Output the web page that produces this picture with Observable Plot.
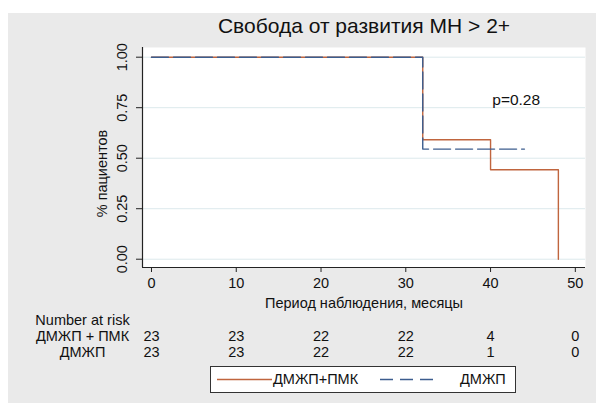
<!DOCTYPE html>
<html>
<head>
<meta charset="utf-8">
<script src="https://cdn.jsdelivr.net/npm/d3@7"></script>
<script src="https://cdn.jsdelivr.net/npm/@observablehq/plot@0.6"></script>
<style>
  html, body { margin: 0; padding: 0; background: #fff; }
  #wrap { position: relative; width: 596px; height: 408px; overflow: hidden; font-family: "Liberation Sans", Arial, sans-serif; }
  #bg { position: absolute; left: 8px; top: 13px; width: 588px; height: 390px; background: #eaeaea; }
  #chart { position: absolute; left: 0; top: 0; }
  #legend { position: absolute; left: 210px; top: 366px; width: 306px; height: 27px; box-sizing: border-box;
            border: 1px solid #333; background: #fff; font-size: 14.5px; color: #111; }
  #legend .item { position: absolute; top: 0; height: 25px; line-height: 25px; white-space: nowrap; }
  #legend svg { position: absolute; top: 0; }
</style>
</head>
<body>
<div id="wrap">
  <div id="bg"></div>
  <div id="chart"></div>
  <div id="legend"></div>
</div>
<script>
// ---- data ----
const title = "Свобода от развития МН > 2+";
const yLabel = "% пациентов";
const xLabel = "Период наблюдения, месяцы";
const pText = "p=0.28";
const groupNames = ["ДМЖП+ПМК", "ДМЖП"];
const riskLabels = ["ДМЖП + ПМК", "ДМЖП"];
const riskTitle = "Number at risk";

const xTicks = [0, 10, 20, 30, 40, 50];
const yTicks = [0, 0.25, 0.5, 0.75, 1];

// survival steps, ДМЖП+ПМК
const timeA = [0, 32, 40, 48];
const survA = [1, 0.591, 0.443, 0];
// survival steps, ДМЖП
const timeB = [0, 32, 44];
const survB = [1, 0.545, 0.545];

// number at risk at xTicks
const riskA = [23, 23, 22, 22, 4, 0];
const riskB = [23, 23, 22, 22, 1, 0];

// p-value annotation position (data coords)
const pPos = {t: 40.2, s: 0.79};

const colorA = "#c0653e";
const colorB = "#3c5d8e";

const xDomain = [-1.06, 51.2];
const yDomain = [-0.041, 1.048];

// ---- build ----
const curveA = timeA.map((t, i) => ({t, s: survA[i]}));
const curveB = timeB.map((t, i) => ({t, s: survB[i]}));
const rowsA = xTicks.map((t, i) => ({t, n: riskA[i]}));
const rowsB = xTicks.map((t, i) => ({t, n: riskB[i]}));

const font = "Liberation Sans, Arial, sans-serif";
const ink = "#111";
const fs = 14.5;

const chart = Plot.plot({
  width: 596,
  height: 408,
  marginLeft: 142,
  marginRight: 11,
  marginTop: 47,
  marginBottom: 141,
  style: {fontFamily: font, background: "transparent", color: ink, overflow: "visible"},
  x: {domain: xDomain},
  y: {domain: yDomain},
  marks: [
    Plot.frame({fill: "white", stroke: null}),
    Plot.gridY(yTicks, {stroke: "#dce9ec", strokeOpacity: 1, strokeWidth: 1}),
    Plot.line(curveA, {x: "t", y: "s", curve: "step-after", stroke: colorA, strokeWidth: 1.4}),
    Plot.line(curveB, {x: "t", y: "s", curve: "step-after", stroke: colorB, strokeWidth: 1.4, strokeDasharray: "17,5"}),
    Plot.ruleX([xDomain[0]], {stroke: "#222", strokeWidth: 1.2}),
    Plot.ruleY([yDomain[0]], {stroke: "#222", strokeWidth: 1.2}),
    Plot.axisX({ticks: xTicks, tickSize: 5, tickPadding: 5, tickFormat: d => String(d), fontSize: fs, label: null, stroke: "#222"}),
    Plot.axisY({ticks: yTicks, tickSize: 6, tickFormat: () => "", label: null, stroke: "#222"}),
    Plot.text(yTicks, {x: xDomain[0], y: d => d, text: d => d.toFixed(2), rotate: -90, dx: -20, fontSize: fs, fill: ink, textAnchor: "middle", lineAnchor: "middle"}),
    Plot.text([yLabel], {frameAnchor: "left", dx: -40, dy: 16, rotate: -90, fontSize: fs, fill: ink, textAnchor: "middle", lineAnchor: "middle"}),
    Plot.text([xLabel], {frameAnchor: "bottom", dy: 36, fontSize: fs, fill: ink, textAnchor: "middle", lineAnchor: "middle"}),
    Plot.text([title], {frameAnchor: "top", dy: -21, fontSize: 21, fill: ink, textAnchor: "middle", lineAnchor: "middle"}),
    Plot.text([pPos], {x: "t", y: "s", text: () => pText, textAnchor: "start", fontSize: 15.5, fill: ink, lineAnchor: "middle"}),
    Plot.text([riskTitle], {frameAnchor: "bottom-left", dx: -60, dy: 53, fontSize: fs, fill: ink, textAnchor: "middle", lineAnchor: "middle"}),
    Plot.text([riskLabels[0]], {frameAnchor: "bottom-left", dx: -60, dy: 69, fontSize: fs, fill: ink, textAnchor: "middle", lineAnchor: "middle"}),
    Plot.text([riskLabels[1]], {frameAnchor: "bottom-left", dx: -60, dy: 85, fontSize: fs, fill: ink, textAnchor: "middle", lineAnchor: "middle"}),
    Plot.text(rowsA, {x: "t", frameAnchor: "bottom", text: "n", dy: 69, fontSize: fs, fill: ink, textAnchor: "middle", lineAnchor: "middle"}),
    Plot.text(rowsB, {x: "t", frameAnchor: "bottom", text: "n", dy: 85, fontSize: fs, fill: ink, textAnchor: "middle", lineAnchor: "middle"})
  ]
});
document.getElementById("chart").appendChild(chart);

// ---- legend ----
const legend = document.getElementById("legend");
function swatch(left, width, color, dash) {
  const ns = "http://www.w3.org/2000/svg";
  const s = document.createElementNS(ns, "svg");
  s.setAttribute("width", width); s.setAttribute("height", 25);
  s.style.left = left + "px";
  const l = document.createElementNS(ns, "line");
  l.setAttribute("x1", 0); l.setAttribute("x2", width);
  l.setAttribute("y1", 12.5); l.setAttribute("y2", 12.5);
  l.setAttribute("stroke", color); l.setAttribute("stroke-width", 1.4);
  if (dash) l.setAttribute("stroke-dasharray", dash);
  s.appendChild(l);
  legend.appendChild(s);
}
function label(left, text) {
  const d = document.createElement("div");
  d.className = "item"; d.style.left = left + "px"; d.textContent = text;
  legend.appendChild(d);
}
swatch(6, 55, colorA, null);
label(62, groupNames[0]);
swatch(169, 53, colorB, "13,7");
label(249, groupNames[1]);
</script>
</body>
</html>
